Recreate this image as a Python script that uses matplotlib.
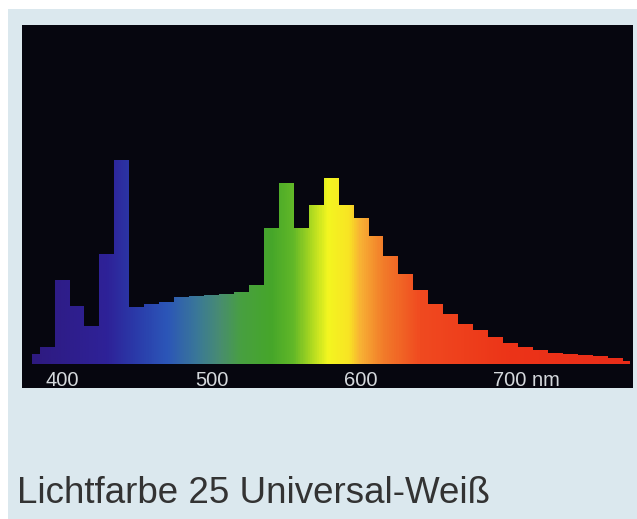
import numpy as np
import matplotlib
matplotlib.use("Agg")
import matplotlib.pyplot as plt
from matplotlib.colors import LinearSegmentedColormap
from matplotlib.patches import Rectangle

# Spektrum: Balken 10 nm breit, an den Enden halbe Balken (380-385, 775-780)
kanten = np.concatenate(([380], np.arange(385, 776, 10), [780]))
werte = [10, 17, 84, 58, 38, 110, 204, 57, 60, 62,
         67, 68, 69, 70, 72, 79, 136, 181, 136, 159,
         186, 159, 146, 128, 108, 90, 74, 60, 50, 40,
         34, 27, 21, 17, 14, 11, 10, 9, 8, 6, 3]

achsen_werte = [400, 500, 600]
achsen_texte = ["400", "500", "600"]
titel = "Lichtfarbe 25 Universal-Weiß"

# Farbverlauf ueber die Wellenlaenge (nm, Farbe)
farb_stops = [(380, "#2e1a80"), (430, "#2e2298"), (450, "#2a3caa"),
              (470, "#2c56b8"), (490, "#3a7898"), (505, "#488c72"),
              (520, "#48a040"), (540, "#46a62a"), (555, "#62b828"),
              (568, "#b4dc20"), (578, "#f4f620"), (592, "#f8e424"),
              (600, "#f8b034"), (615, "#f27c2a"), (640, "#f04a20"),
              (700, "#ec3418"), (780, "#e82c18")]

fig = plt.figure(figsize=(6.37, 5.19), dpi=100, facecolor="white")
fig.patches.append(Rectangle((8 / 637, 0), 1, (519 - 9) / 519, transform=fig.transFigure,
                             facecolor="#dbe8ee", edgecolor="none", zorder=-1))

ax = fig.add_axes([22 / 637, (519 - 388) / 519, (633 - 22) / 637, (388 - 25) / 519])
ax.set_facecolor("#06060f")
ax.set_xlim(373.2, 781.9)
ax.set_ylim(-24, 339)
for s in ax.spines.values():
    s.set_visible(False)
ax.set_xticks([])
ax.set_yticks([])

# Stufen-Umriss, dient als Maske fuer den Farbverlauf
stufen = ax.stairs(werte, kanten, fill=True, facecolor="none", edgecolor="none", baseline=0)

lo, hi = farb_stops[0][0], farb_stops[-1][0]
cmap = LinearSegmentedColormap.from_list(
    "spektrum", [((nm - lo) / (hi - lo), c) for nm, c in farb_stops])
verlauf = np.linspace(0, 1, 800).reshape(1, -1)
bild = ax.imshow(verlauf, cmap=cmap, aspect="auto", extent=[lo, hi, 0, max(werte) + 5],
                 interpolation="bilinear", origin="lower")
bild.set_clip_path(stufen)

for xv, t in zip(achsen_werte, achsen_texte):
    ax.text(xv, -22.5, t, ha="center", va="baseline", color="#d4d8dc",
            fontsize=14.5, family="Liberation Sans")
ax.text(688, -22.5, "700 nm", ha="left", va="baseline", color="#d4d8dc",
        fontsize=14.5, family="Liberation Sans")

fig.text(17 / 637, (519 - 503) / 519, titel, ha="left", va="baseline", color="#333333",
         fontsize=26.5, family="Liberation Sans")

fig.savefig("out.png", dpi=100, facecolor=fig.get_facecolor())
